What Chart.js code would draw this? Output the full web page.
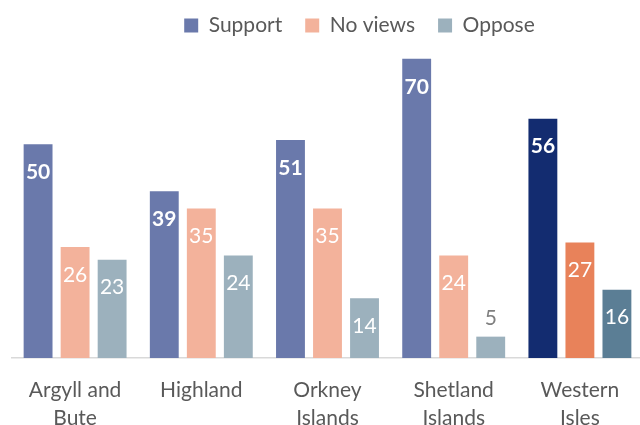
<!DOCTYPE html>
<html>
<head>
<meta charset="utf-8">
<script src="https://cdn.jsdelivr.net/npm/chart.js@4/dist/chart.umd.min.js"></script>
<style>
  html, body { margin: 0; padding: 0; background: #ffffff; }
  #wrap { width: 640px; height: 425px; overflow: hidden; position: relative; }
  canvas { display: block; }
</style>
</head>
<body>
<div id="wrap"><canvas id="chart" width="648" height="450"></canvas></div>
<script>
// Survey responses by council area (%)
const categories = [["Argyll and", "Bute"], "Highland", ["Orkney", "Islands"], ["Shetland", "Islands"], ["Western", "Isles"]];
const seriesNames = ["Support", "No views", "Oppose"];
const support = [50, 39, 51, 70, 56];
const noViews = [26, 35, 35, 24, 27];
const oppose = [23, 24, 14, 5, 16];

// Base palette, with the last area picked out in deeper shades
const baseColors = ["#6A79AB", "#F3B29B", "#9CB1BD"];
const highlightColors = ["#132C70", "#E8825A", "#5B7E95"];
const highlightIndex = 4;

function colorsFor(seriesIdx) {
  return categories.map((_, i) => i === highlightIndex ? highlightColors[seriesIdx] : baseColors[seriesIdx]);
}

const FONT = "Lato, 'Open Sans', sans-serif";

// Value labels: inside the top of each bar, or above it for short bars
const valueLabels = {
  id: "valueLabels",
  afterDatasetsDraw(chart) {
    const ctx = chart.ctx;
    ctx.save();
    ctx.textAlign = "center";
    ctx.textBaseline = "middle";
    chart.data.datasets.forEach((ds, di) => {
      const meta = chart.getDatasetMeta(di);
      meta.data.forEach((bar, i) => {
        const v = ds.data[i];
        const bold = di === 0;
        ctx.font = (bold ? "bold " : "") + "21px " + FONT;
        if (v < 10) {
          ctx.fillStyle = "#7F7F7F";
          ctx.fillText(String(v), bar.x, bar.y - 18);
        } else {
          ctx.fillStyle = "#FFFFFF";
          ctx.fillText(String(v), bar.x, bar.y + 28);
        }
      });
    });
    ctx.restore();
  }
};

// Nudge the legend row to the right of the plot centre
const legendShift = {
  id: "legendShift",
  afterLayout(chart) {
    const lg = chart.legend;
    if (lg) { lg.left += 32; lg.right += 32; }
  }
};

new Chart(document.getElementById("chart"), {
  type: "bar",
  data: {
    labels: categories,
    datasets: [
      { label: seriesNames[0], data: support, backgroundColor: colorsFor(0) },
      { label: seriesNames[1], data: noViews, backgroundColor: colorsFor(1) },
      { label: seriesNames[2], data: oppose, backgroundColor: colorsFor(2) }
    ]
  },
  options: {
    responsive: false,
    animation: false,
    layout: { padding: { left: 12, right: 5, top: -8, bottom: 0 } },
    datasets: {
      bar: { categoryPercentage: 0.88, barPercentage: 0.78 }
    },
    scales: {
      x: {
        grid: { display: false, drawTicks: false },
        border: { display: true, color: "#D9D9D9", width: 1.5 },
        ticks: {
          color: "#595959",
          font: { family: FONT, size: 21, lineHeight: 1.333 },
          padding: 18,
          maxRotation: 0,
          autoSkip: false
        }
      },
      y: {
        display: false,
        min: 0,
        max: 73
      }
    },
    plugins: {
      legend: {
        position: "top",
        labels: {
          color: "#595959",
          font: { family: FONT, size: 21 },
          boxWidth: 14,
          boxHeight: 14,
          padding: 23,
          generateLabels(chart) {
            return chart.data.datasets.map((ds, i) => ({
              text: ds.label,
              fillStyle: baseColors[i],
              strokeStyle: baseColors[i],
              lineWidth: 0,
              fontColor: "#595959",
              datasetIndex: i,
              hidden: false
            }));
          }
        }
      },
      tooltip: { enabled: false }
    }
  },
  plugins: [valueLabels, legendShift]
});
</script>
</body>
</html>
